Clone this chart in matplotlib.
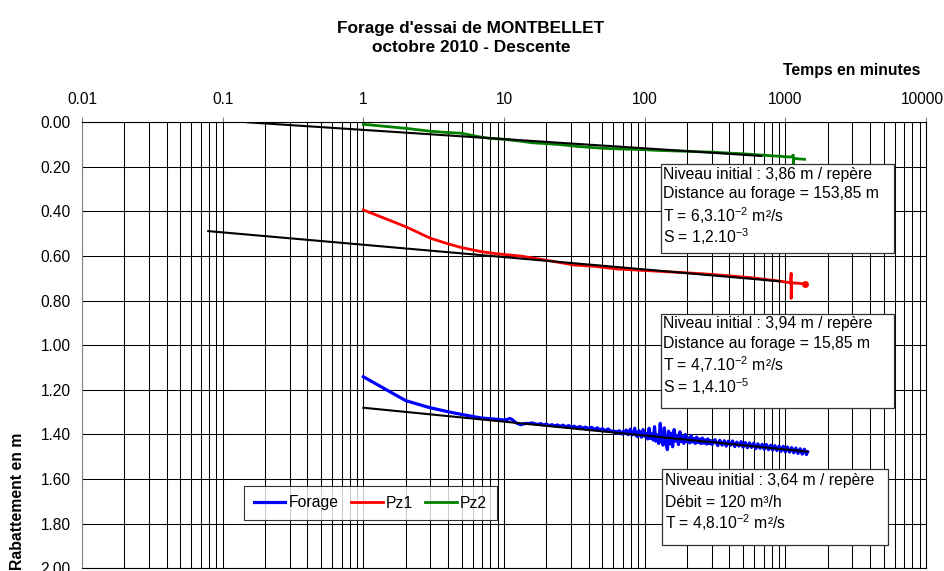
import matplotlib
matplotlib.use("Agg")
import matplotlib.pyplot as plt
import matplotlib.transforms as mtransforms
from matplotlib.patches import Rectangle
from matplotlib.ticker import LogLocator, NullFormatter

plt.rcParams["font.family"] = "Liberation Sans"
plt.rcParams["mathtext.fontset"] = "custom"
plt.rcParams["mathtext.rm"] = "Liberation Sans"
plt.rcParams["mathtext.it"] = "Liberation Sans:italic"
plt.rcParams["mathtext.bf"] = "Liberation Sans:bold"

# ---- data (time in minutes, drawdown in m) ----
forage_t = [1, 2, 2.9, 4, 5, 6.9, 9, 10, 10.5, 11, 11.5, 12, 12.6, 13.2, 13.8, 14.5, 15.1,
            15.8, 16.6, 17.4, 18.2, 19, 20, 21, 22, 23, 24, 25, 26.3, 27.5, 28.8, 30, 31.6,
            33, 34.6, 36, 38, 40, 42, 44, 46, 48, 50, 52.5, 55, 57.5,
            60, 61.5, 63, 64.5, 66, 67.5, 69, 70.5, 72, 74, 76, 77.5, 79, 81, 83, 85, 87,
            89, 91, 93, 95, 97.5, 100, 102.5, 105, 107.5, 110, 112.5, 115, 117.5, 120, 123,
            126, 129, 132, 135, 138, 141, 145, 148, 151, 155, 158, 162, 166, 170, 174, 178,
            182, 186, 190, 195, 200, 205, 209, 214, 219, 224, 229, 234, 240, 245, 251, 257,
            263, 269, 275, 281, 288, 295, 302,
            316, 331, 342, 355, 368, 380, 393, 407, 421, 437, 452, 468, 485, 501, 519, 538,
            556, 575, 596, 617, 638, 661, 684, 708, 733, 759, 786, 813, 842, 871, 902, 933,
            966, 1000, 1035, 1072, 1109, 1148, 1189, 1230, 1274, 1318, 1365, 1413, 1440]
forage_s = [1.141, 1.248, 1.278, 1.298, 1.310, 1.326, 1.332, 1.335, 1.333, 1.328, 1.334,
            1.345, 1.352, 1.356, 1.352, 1.350, 1.351, 1.348, 1.352, 1.355, 1.351, 1.357,
            1.354, 1.360, 1.356, 1.362, 1.357, 1.364, 1.358, 1.366, 1.360, 1.367, 1.363,
            1.370, 1.364, 1.372, 1.367, 1.374, 1.368, 1.377, 1.370, 1.380, 1.374, 1.383,
            1.375, 1.386,
            1.384, 1.392, 1.386, 1.395, 1.383, 1.393, 1.398, 1.385, 1.396, 1.380, 1.401,
            1.392, 1.376, 1.403, 1.394, 1.372, 1.405, 1.410, 1.382, 1.400, 1.412, 1.378,
            1.408, 1.395, 1.420, 1.372, 1.418, 1.398, 1.425, 1.365, 1.430, 1.402, 1.440,
            1.350, 1.420, 1.448, 1.370, 1.435, 1.468, 1.385, 1.442, 1.395, 1.455, 1.378,
            1.430, 1.405, 1.445, 1.388, 1.432, 1.410, 1.440, 1.400, 1.432, 1.415, 1.438,
            1.405, 1.434, 1.418, 1.440, 1.412, 1.436, 1.420, 1.441, 1.416, 1.439, 1.424,
            1.443, 1.420, 1.441, 1.427, 1.445,
            1.423, 1.450, 1.426, 1.448, 1.428, 1.452, 1.430, 1.449, 1.429, 1.454, 1.434,
            1.452, 1.432, 1.457, 1.436, 1.459, 1.438, 1.458, 1.439, 1.463, 1.442, 1.462,
            1.444, 1.466, 1.445, 1.468, 1.448, 1.470, 1.450, 1.472, 1.452, 1.475, 1.453,
            1.478, 1.456, 1.479, 1.459, 1.482, 1.461, 1.485, 1.464, 1.488, 1.466, 1.490,
            1.478]

pz1_t = [1, 2, 3, 4, 5, 6.9, 9, 13.2, 19.4, 31.6, 44, 64, 118, 200, 300, 575, 910, 1000,
         1090, 1100, 1100, 1110, 1250, 1370]
pz1_s = [0.393, 0.468, 0.52, 0.545, 0.562, 0.58, 0.59, 0.60, 0.617, 0.64, 0.646, 0.658,
         0.667, 0.675, 0.682, 0.697, 0.712, 0.716, 0.72, 0.677, 0.79, 0.72, 0.722, 0.725]

pz2_t = [1, 2, 3, 4, 5, 6.5, 8, 10, 13.6, 16, 20.5, 25, 33, 40, 52, 70, 94, 124, 200, 300,
         490, 840, 1100, 1140, 1140, 1150, 1250, 1370]
pz2_s = [0.009, 0.027, 0.040, 0.046, 0.049, 0.064, 0.072, 0.076, 0.086, 0.092, 0.096,
         0.100, 0.108, 0.112, 0.117, 0.120, 0.122, 0.126, 0.130, 0.134, 0.141, 0.151,
         0.156, 0.147, 0.187, 0.162, 0.164, 0.166]

# Jacob straight-line fits
fit_forage_t = [1, 1440]
fit_forage_s = [1.28, 1.477]
fit_pz1_t = [0.079, 910]
fit_pz1_s = [0.488, 0.713]
fit_pz2_t = [0.15, 676]
fit_pz2_s = [0.0, 0.151]

x_ticks = [0.01, 0.1, 1, 10, 100, 1000, 10000]
x_labels = ["0.01", "0.1", "1", "10", "100", "1000", "10000"]
y_ticks = [0.0, 0.2, 0.4, 0.6, 0.8, 1.0, 1.2, 1.4, 1.6, 1.8, 2.0]

box_pz2 = ["Niveau initial : 3,86 m / repère", "Distance au forage = 153,85 m",
           r"T = 6,3.10$^{-2}$ m²/s", r"S = 1,2.10$^{-3}$"]
box_pz1 = ["Niveau initial : 3,94 m / repère", "Distance au forage = 15,85 m",
           r"T = 4,7.10$^{-2}$ m²/s", r"S = 1,4.10$^{-5}$"]
box_forage = ["Niveau initial : 3,64 m / repère", "Débit = 120 m³/h",
              r"T = 4,8.10$^{-2}$ m²/s"]

W, H = 945, 571


def fx(px):
    return px / W


def fy(py):
    return 1 - py / H


fig = plt.figure(figsize=(9.45, 5.71), dpi=100)
ax = fig.add_axes([fx(82), fy(568.3), (926 - 82) / W, (568.3 - 122.3) / H])

ax.plot(forage_t, forage_s, color="#0000FF", lw=2.3, label="Forage", zorder=3)
ax.plot(pz1_t, pz1_s, color="#FF0000", lw=2, label="Pz1", zorder=3)
ax.plot(pz2_t, pz2_s, color="#008000", lw=2, label="Pz2", zorder=3)
ax.plot(pz1_t[-1:], pz1_s[-1:], "o", color="#FF0000", ms=4, zorder=3)

for t, s in [(fit_forage_t, fit_forage_s), (fit_pz1_t, fit_pz1_s), (fit_pz2_t, fit_pz2_s)]:
    ax.plot(t, s, color="black", lw=1.5, zorder=4)

ax.set_xscale("log")
ax.set_xlim(0.01, 10000)
ax.set_ylim(2.0, 0.0)
ax.xaxis.tick_top()
ax.set_xticks(x_ticks)
ax.set_xticklabels(x_labels)
ax.xaxis.set_minor_locator(LogLocator(base=10, subs=range(2, 10)))
ax.xaxis.set_minor_formatter(NullFormatter())
ax.set_yticks(y_ticks)
ax.set_yticklabels([f"{v:.2f}" for v in y_ticks])

ax.tick_params(axis="x", which="major", length=3.8, width=0.8, color="#808080",
               pad=7.5, labelsize=11.2)
ax.tick_params(axis="x", which="minor", length=0)
ax.tick_params(axis="y", length=0, pad=8.2, labelsize=11.2)

# keep the last time label inside the figure
last = ax.get_xticklabels()[-1]
last.set_transform(last.get_transform()
                   + mtransforms.ScaledTranslation(-4 / 100, 0, fig.dpi_scale_trans))

ax.grid(True, axis="x", which="both", color="black", lw=0.75, zorder=1)
ax.grid(True, axis="y", which="major", color="black", lw=0.75, zorder=1)
ax.set_axisbelow(True)
for name, sp in ax.spines.items():
    sp.set_linewidth(0.8)
    sp.set_color("#808080" if name == "left" else "black")

leg = ax.legend(loc="center", bbox_to_anchor=(fx(370.5), fy(503)),
                bbox_transform=fig.transFigure, ncol=3, fontsize=11.3, frameon=True,
                fancybox=False, edgecolor="black", handlelength=2.0, handletextpad=0.2,
                columnspacing=0.8, borderpad=0.62, borderaxespad=0)
leg.get_frame().set_linewidth(0.8)
leg.set_zorder(6)

# annotation boxes
boxes = [
    ((660.5, 164.3, 894.3, 253.3), 663.5, [179, 198.3, 221.7, 243.3], box_pz2),
    ((660.5, 314, 894.3, 407.7), 663.5, [328.3, 347.7, 370.7, 392.7], box_pz1),
    ((661.7, 469.3, 887.7, 545), 665, [485, 506.7, 529.3], box_forage),
]
for (x0, y0, x1, y1), tx, baselines, lines in boxes:
    fig.patches.append(Rectangle((fx(x0), fy(y1)), (x1 - x0) / W, (y1 - y0) / H,
                                 transform=fig.transFigure, facecolor="white",
                                 edgecolor="#333333", lw=0.9, zorder=5))
    for by, line in zip(baselines, lines):
        fig.text(fx(tx), fy(by), line, fontsize=11.3, ha="left", va="baseline", zorder=6)

fig.text(fx(471), fy(28), "Forage d'essai de MONTBELLET", fontsize=12.4,
         fontweight="bold", ha="center", va="center")
fig.text(fx(471), fy(48), "octobre 2010 - Descente", fontsize=12.4,
         fontweight="bold", ha="center", va="center")
fig.text(fx(920), fy(71), "Temps en minutes", fontsize=11.3, fontweight="bold",
         ha="right", va="center")
fig.text(fx(18), fy(501), "Rabattement en m", fontsize=11.3, fontweight="bold",
         rotation=90, ha="center", va="center")

fig.savefig("out.png", dpi=100)
